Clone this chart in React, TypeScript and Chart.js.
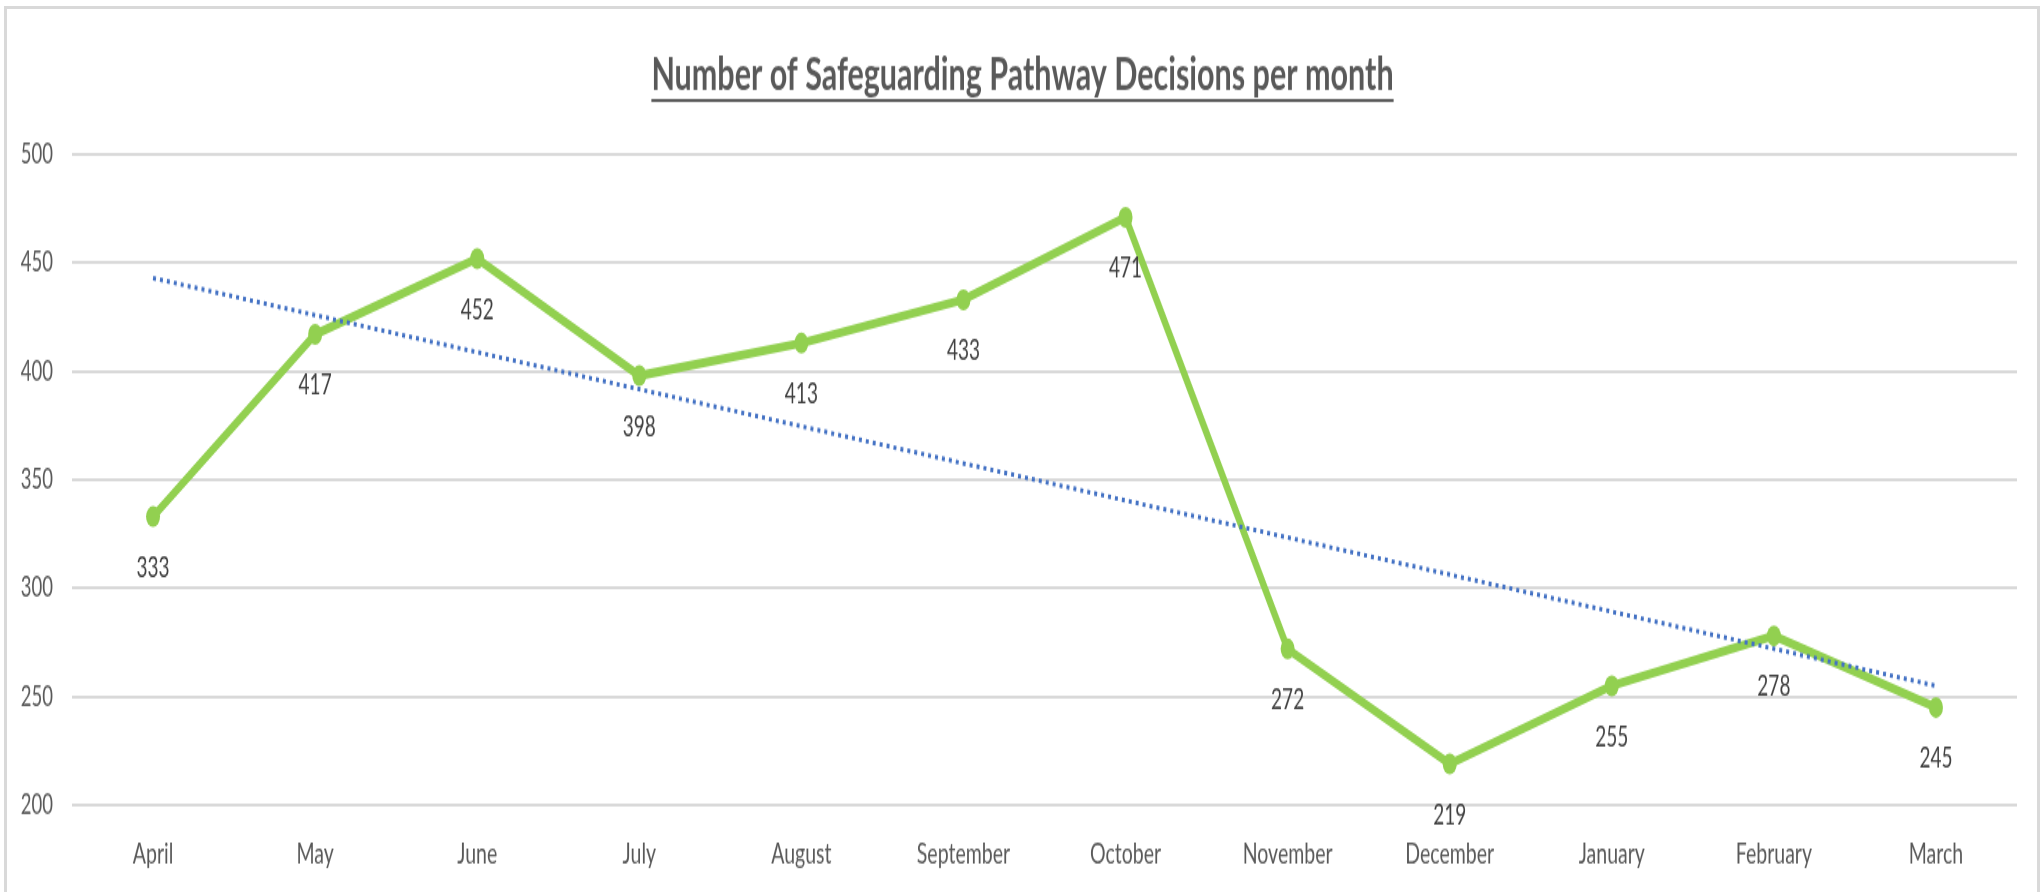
import React, { useEffect, useRef } from "react";
import { Chart, registerables } from "chart.js";

Chart.register(...registerables);

// ---- data ----
const months = ["April", "May", "June", "July", "August", "September", "October", "November", "December", "January", "February", "March"];
const decisions = [333, 417, 452, 398, 413, 433, 471, 272, 219, 255, 278, 245];
const trendMonths = ["April", "March"];
const trendValues = [443, 255];
const yTicks = [200, 250, 300, 350, 400, 450, 500];
const chartTitle = "Number of Safeguarding Pathway Decisions per month";

// ---- page geometry ----
const PAGE_W = 2043;
const PAGE_H = 892;
const CANVAS_H = 595;
const STRETCH = PAGE_H / CANVAS_H;
const FONT = "Lato, 'Open Sans', sans-serif";

const titlePlugin = {
  id: "underlinedTitle",
  afterDraw(chart: any) {
    const ctx = chart.ctx;
    ctx.save();
    ctx.font = `bold 30.5px ${FONT}`;
    ctx.fillStyle = "#595959";
    ctx.textAlign = "center";
    ctx.textBaseline = "alphabetic";
    const cx = chart.width / 2 + 1;
    const baseY = 60;
    ctx.fillText(chartTitle, cx, baseY);
    const w = ctx.measureText(chartTitle).width;
    ctx.fillRect(cx - w / 2, 66, w, 2);
    ctx.restore();
  },
};

const dataLabelPlugin = {
  id: "pointLabels",
  afterDatasetsDraw(chart: any) {
    const ctx = chart.ctx;
    const meta = chart.getDatasetMeta(0);
    ctx.save();
    ctx.font = `19px ${FONT}`;
    ctx.fillStyle = "#404040";
    ctx.textAlign = "center";
    ctx.textBaseline = "middle";
    meta.data.forEach((pt: any, i: number) => {
      ctx.fillText(String(decisions[i]), pt.x, pt.y + 34);
    });
    ctx.restore();
  },
};

export default function App() {
  const canvasRef = useRef<HTMLCanvasElement | null>(null);

  useEffect(() => {
    if (!canvasRef.current) return;
    const chart = new Chart(canvasRef.current, {
      type: "line",
      data: {
        labels: months,
        datasets: [
          {
            label: "Decisions",
            data: decisions,
            borderColor: "#92D050",
            backgroundColor: "#92D050",
            borderWidth: 6,
            pointRadius: 7,
            pointBackgroundColor: "#92D050",
            pointBorderColor: "#92D050",
            pointBorderWidth: 0,
            tension: 0,
            order: 1,
          },
          {
            label: "Trend",
            data: trendMonths.map((m, i) => ({ x: m, y: trendValues[i] })) as any,
            borderColor: "#4472C4",
            borderWidth: 3,
            borderDash: [3, 4],
            pointRadius: 0,
            tension: 0,
            order: 0,
          },
        ],
      },
      options: {
        responsive: false,
        animation: false,
        devicePixelRatio: 1,
        font: { family: FONT },
        layout: { padding: { left: 0, right: 26, top: 103, bottom: 15 } },
        plugins: {
          legend: { display: false },
          title: { display: false },
          tooltip: { enabled: false },
        },
        scales: {
          x: {
            offset: true,
            grid: { display: false, drawTicks: false },
            border: { display: false },
            afterFit: (scale: any) => {
              scale.height = 43;
            },
            ticks: {
              padding: 21,
              color: "#595959",
              font: { size: 19.5, family: FONT },
              maxRotation: 0,
              autoSkip: false,
            },
          },
          y: {
            min: 200,
            max: 500,
            afterBuildTicks: (scale: any) => {
              scale.ticks = yTicks.map((v) => ({ value: v }));
            },
            afterFit: (scale: any) => {
              scale.width = 72;
            },
            grid: { color: "#d9d9d9", lineWidth: 2, drawTicks: false },
            border: { display: false },
            ticks: {
              padding: 19,
              color: "#595959",
              font: { size: 18.5, family: FONT },
            },
          },
        },
      },
      plugins: [titlePlugin, dataLabelPlugin],
    });
    return () => chart.destroy();
  }, []);

  return (
    <div
      style={{
        position: "absolute",
        left: 0,
        top: 0,
        width: PAGE_W,
        height: PAGE_H,
        background: "#ffffff",
        overflow: "hidden",
      }}
    >
      <canvas
        ref={canvasRef}
        width={PAGE_W}
        height={CANVAS_H}
        style={{
          position: "absolute",
          left: 0,
          top: 0,
          transform: `scaleY(${STRETCH})`,
          transformOrigin: "0 0",
        }}
      />
      <div
        style={{
          position: "absolute",
          left: 4,
          top: 6,
          width: 2036,
          height: 920,
          boxSizing: "border-box",
          borderLeft: "3px solid #d9d9d9",
          borderTop: "3px solid #d9d9d9",
          borderRight: "3px solid #d9d9d9",
          pointerEvents: "none",
        }}
      />
    </div>
  );
}
